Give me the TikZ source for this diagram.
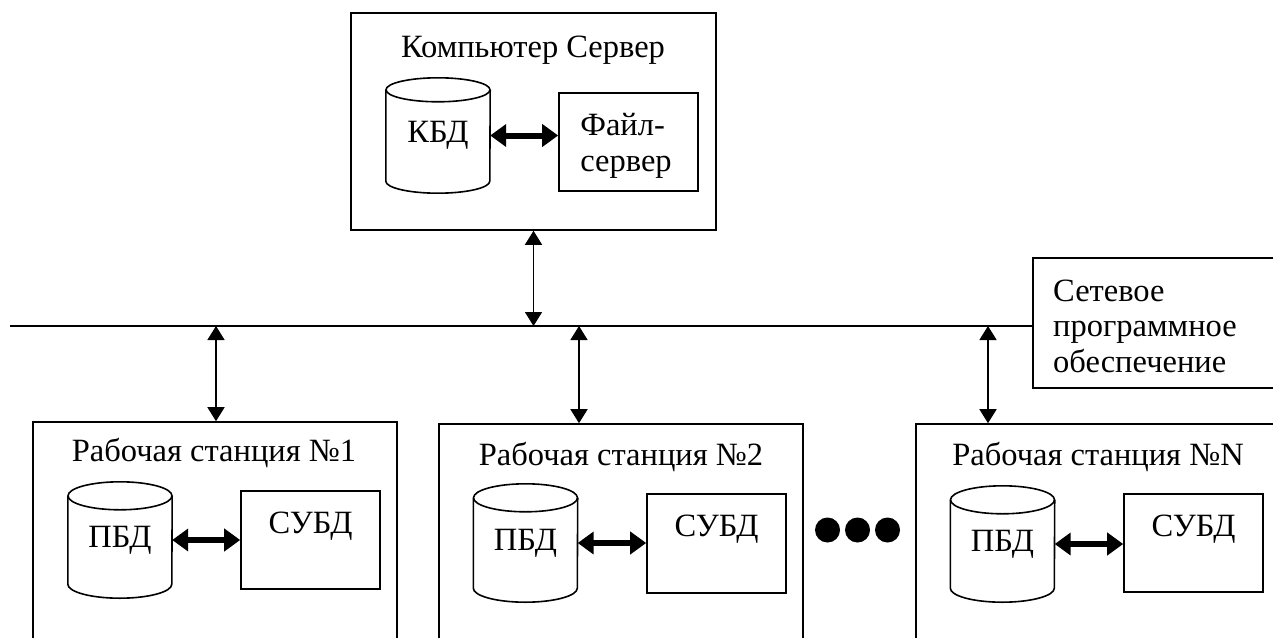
\documentclass[tikz,border=0pt]{standalone}
\usepackage{fontspec}
\setmainfont{Liberation Serif}
\usetikzlibrary{arrows.meta}

% Outline of a database drum around a named node
\newcommand\drum[3]{%
  \draw[line width=1.6pt] ([yshift=-#3]#1.north) ellipse ({#2} and {#3});
  \draw[line width=1.6pt] ([yshift=-#3]#1.north west) -- ([yshift=#3]#1.south west)
    arc[start angle=180,end angle=360,x radius=#2,y radius=#3]
    -- ([yshift=-#3]#1.north east);
}

\begin{document}
\begin{tikzpicture}[x=1pt,y=1pt,
  every node/.style={font=\fontsize{32.5}{35.5}\selectfont, inner sep=0pt},
  box/.style={draw, line width=1.6pt, rectangle},
  cylbody/.style={rectangle, minimum width=104pt},
  varrow/.style={line width=1.6pt, {Triangle[length=14pt,width=17pt]}-{Triangle[length=14pt,width=17pt]}},
  darrow/.style={line width=6pt, {Triangle[length=16pt,width=22pt]}-{Triangle[length=16pt,width=22pt]}},
  dot/.style={circle, fill, minimum size=25pt}
]
\useasboundingbox (0,0) rectangle (1273,-637);
\clip (0,0) rectangle (1273,-637);

% Server computer
\node[box, minimum width=365pt, minimum height=217pt] (srv) at (533.5,-121.5) {};
\node (srvtitle) at (533,-50) {Компьютер Сервер};
\node[cylbody, minimum height=115pt] (kbd) at (438,-135.5) {КБД};
\drum{kbd}{52}{12}
\node[box, minimum width=139pt, minimum height=98pt] (fs) at (628.5,-142) {};
\node[align=left] (fstext) at (626,-146) {Файл-\\сервер};
\draw[darrow] (kbd.east) -- (kbd.east -| fs.west);

% Network software and the bus
\node[box, minimum width=257pt, minimum height=130pt] (spo) at (1161.5,-323) {};
\node[anchor=west, align=left] (spotext) at (1053,-326) {Сетевое\\программное\\обеспечение};
\coordinate (busL) at (10,-326);
\draw[line width=1.6pt] (busL) -- (busL -| spo.west);
\draw[varrow] (srv.south) -- (srv.south |- busL);

\coordinate (b1) at (216,-326);
\coordinate (b2) at (579,-326);
\coordinate (bN) at (988,-326);

% Workstation 1
\node[box, minimum width=364pt, minimum height=228pt] (ws1) at (215,-536) {};
\node (ws1title) at (214,-453) {Рабочая станция №1};
\node[cylbody, minimum height=116pt] (pbd1) at (120,-540) {ПБД};
\drum{pbd1}{52}{14}
\node[box, minimum width=139pt, minimum height=98pt, align=center] (subd1) at (310.5,-540) {СУБД\\ };
\draw[darrow] (pbd1.east) -- (pbd1.east -| subd1.west);
\draw[varrow] (b1) -- (b1 |- ws1.north);

% Workstation 2
\node[box, minimum width=364pt, minimum height=228pt] (ws2) at (621,-538) {};
\node (ws2title) at (621,-457) {Рабочая станция №2};
\node[cylbody, minimum height=118pt] (pbd2) at (525.5,-543) {ПБД};
\drum{pbd2}{52}{14}
\node[box, minimum width=139pt, minimum height=99pt, align=center] (subd2) at (716.5,-543.5) {СУБД\\ };
\draw[darrow] (pbd2.east) -- (pbd2.east -| subd2.west);
\draw[varrow] (b2) -- (b2 |- ws2.north);

% Ellipsis between stations
\node[dot] (d1) at (827.5,-530) {};
\node[dot] (d2) at (857.5,-530) {};
\node[dot] (d3) at (887.5,-530) {};

% Workstation N
\node[box, minimum width=364pt, minimum height=228pt] (wsN) at (1098,-538) {};
\node (wsNtitle) at (1098,-457) {Рабочая станция №N};
\node[cylbody, minimum height=116pt] (pbdN) at (1002.5,-544) {ПБД};
\drum{pbdN}{52}{14}
\node[box, minimum width=139pt, minimum height=98pt, align=center] (subdN) at (1193.5,-543) {СУБД\\ };
\draw[darrow] (pbdN.east) -- (pbdN.east -| subdN.west);
\draw[varrow] (bN) -- (bN |- wsN.north);
\end{tikzpicture}
\end{document}
